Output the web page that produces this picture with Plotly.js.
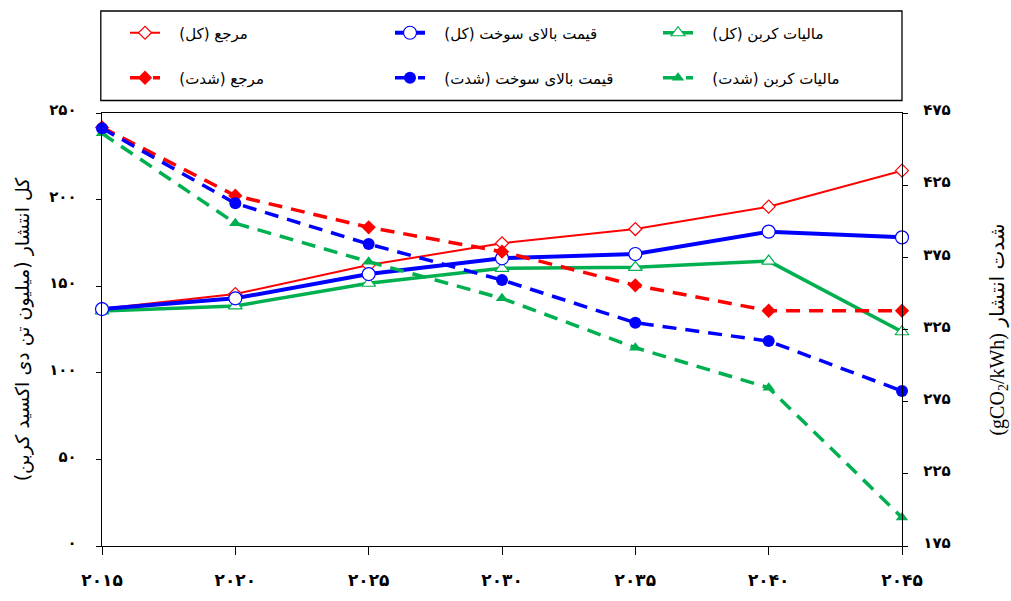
<!DOCTYPE html>
<html><head><meta charset="utf-8">
<script src="https://cdn.plot.ly/plotly-3.0.1.min.js"></script>
<style>body{margin:0;background:#fff}#chart{width:1011px;height:601px}</style>
</head><body><div id="chart"></div>
<script>
const years = [2015, 2020, 2025, 2030, 2035, 2040, 2045];
const yearLabels = ['۲۰۱۵', '۲۰۲۰', '۲۰۲۵', '۲۰۳۰', '۲۰۳۵', '۲۰۴۰', '۲۰۴۵'];

// total emissions (million tonnes CO2) - left axis
const refTotal = [137, 145.5, 162.2, 174.8, 183, 195.9, 216.7];
const fuelTotal = [136.8, 143, 157, 166.1, 168.6, 181.5, 178.2];
const taxTotal = [135.7, 138.6, 151.7, 160.3, 160.9, 164.5, 123.7];

// emission intensity (gCO2/kWh) - right axis
const refIntensity = [465, 417.7, 395.8, 378.9, 355.6, 338, 338];
const fuelIntensity = [464.4, 412.4, 384.2, 359.3, 329.7, 317, 282.4];
const taxIntensity = [460.9, 398.6, 372, 346.6, 312.4, 284.6, 194.8];

const leftTicks = [0, 50, 100, 150, 200, 250];
const leftTickLabels = ['۰', '۵۰', '۱۰۰', '۱۵۰', '۲۰۰', '۲۵۰'];
const rightTicks = [175, 225, 275, 325, 375, 425, 475];
const rightTickLabels = ['۱۷۵', '۲۲۵', '۲۷۵', '۳۲۵', '۳۷۵', '۴۲۵', '۴۷۵'];

const PAD = '\u00A0\u00A0\u00A0';
const seriesNames = [
  'مرجع (کل)', 'قیمت بالای سوخت (کل)', 'مالیات کربن (کل)',
  'مرجع (شدت)', 'قیمت بالای سوخت (شدت)', 'مالیات کربن (شدت)'
].map(s => PAD + s + '\u200F');
const leftTitle = 'کل انتشار (میلیون تن دی اکسید کربن)\u200F';
const rightTitle = '<span style="font-family:Liberation Serif">(gCO<sub>2</sub>/kWh)</span> شدت انتشار';

const RED = '#FF0000', BLUE = '#0000FF', GREEN = '#00B050';
const FONT = 'DejaVu Sans, sans-serif';

const traces = [
  {x: years, y: taxIntensity, yaxis: 'y2', name: seriesNames[5], legend: 'legend6',
   mode: 'lines+markers', line: {color: GREEN, width: 3.5, dash: '14px,9px'},
   marker: {symbol: 'triangle-up', size: 11, color: GREEN}},
  {x: years, y: refIntensity, yaxis: 'y2', name: seriesNames[3], legend: 'legend4',
   mode: 'lines+markers', line: {color: RED, width: 3.5, dash: '14px,9px'},
   marker: {symbol: 'diamond', size: 11, color: RED}},
  {x: years, y: fuelIntensity, yaxis: 'y2', name: seriesNames[4], legend: 'legend5',
   mode: 'lines+markers', line: {color: BLUE, width: 3.5, dash: '14px,9px'},
   marker: {symbol: 'circle', size: 12, color: BLUE}},
  {x: years, y: refTotal, yaxis: 'y', name: seriesNames[0], legend: 'legend',
   mode: 'lines+markers', line: {color: RED, width: 2},
   marker: {symbol: 'diamond', size: 10, color: '#fff', line: {color: RED, width: 1.2}}},
  {x: years, y: taxTotal, yaxis: 'y', name: seriesNames[2], legend: 'legend3',
   mode: 'lines+markers', line: {color: GREEN, width: 3.5},
   marker: {symbol: 'triangle-up', size: 12, color: '#fff', line: {color: GREEN, width: 1.2}}},
  {x: years, y: fuelTotal, yaxis: 'y', name: seriesNames[1], legend: 'legend2',
   mode: 'lines+markers', line: {color: BLUE, width: 4},
   marker: {symbol: 'circle', size: 13, color: '#fff', line: {color: BLUE, width: 1.2}}}
].map(t => Object.assign({cliponaxis: false}, t));

function leg(x, y) {
  return {
    orientation: 'v', xanchor: 'left', yanchor: 'middle', x: x, y: y,
    font: {family: FONT, size: 15, color: '#000'}, bgcolor: 'rgba(0,0,0,0)', borderwidth: 0
  };
}
const colX = [0.02875, 0.36, 0.695];
const rowY = [1.1848, 1.0808];

const layout = {
  width: 1011, height: 601,
  margin: {l: 102, r: 109, t: 113, b: 55},
  paper_bgcolor: '#fff', plot_bgcolor: '#fff',
  showlegend: true,
  legend: leg(colX[0], rowY[0]),
  legend2: leg(colX[1], rowY[0]),
  legend3: leg(colX[2], rowY[0]),
  legend4: leg(colX[0], rowY[1]),
  legend5: leg(colX[1], rowY[1]),
  legend6: leg(colX[2], rowY[1]),
  xaxis: {
    range: [2015, 2045], tickvals: years, ticktext: yearLabels,
    ticks: 'outside', ticklen: 8, tickcolor: '#000', tickwidth: 1,
    showline: true, linecolor: '#000', linewidth: 1.3, mirror: true,
    showgrid: false, zeroline: false, ticklabelstandoff: 10,
    tickfont: {family: FONT, size: 17, color: '#000', weight: 'bold'}
  },
  yaxis: {
    range: [0, 250], tickvals: leftTicks, ticktext: leftTickLabels,
    ticks: 'outside', ticklen: 5, tickcolor: '#000',
    showline: true, linecolor: '#000', linewidth: 1.3,
    showgrid: false, zeroline: false, ticklabelstandoff: 16, ticklabelshift: -3,
    tickfont: {family: FONT, size: 15, color: '#000', weight: 'bold'},
    title: {text: leftTitle, standoff: 14, font: {family: FONT, size: 19, color: '#000'}},
    automargin: false
  },
  yaxis2: {
    overlaying: 'y', side: 'right',
    range: [175, 475], tickvals: rightTicks, ticktext: rightTickLabels,
    ticks: 'outside', ticklen: 5, tickcolor: '#000',
    showline: true, linecolor: '#000', linewidth: 1.3,
    showgrid: false, zeroline: false, ticklabelstandoff: 12, ticklabelshift: -3,
    tickfont: {family: FONT, size: 15, color: '#000', weight: 'bold'},
    title: {text: rightTitle, standoff: 46, font: {family: FONT, size: 20, color: '#000'}},
    automargin: false
  },
  shapes: [{
    type: 'rect', xref: 'paper', yref: 'paper',
    x0: -0.0015, x1: 1.0, y0: 1.0289, y1: 1.2356,
    line: {color: '#000', width: 1.3}, fillcolor: 'rgba(0,0,0,0)'
  }]
};

Plotly.newPlot('chart', traces, layout, {staticPlot: true, displayModeBar: false});
</script></body></html>
